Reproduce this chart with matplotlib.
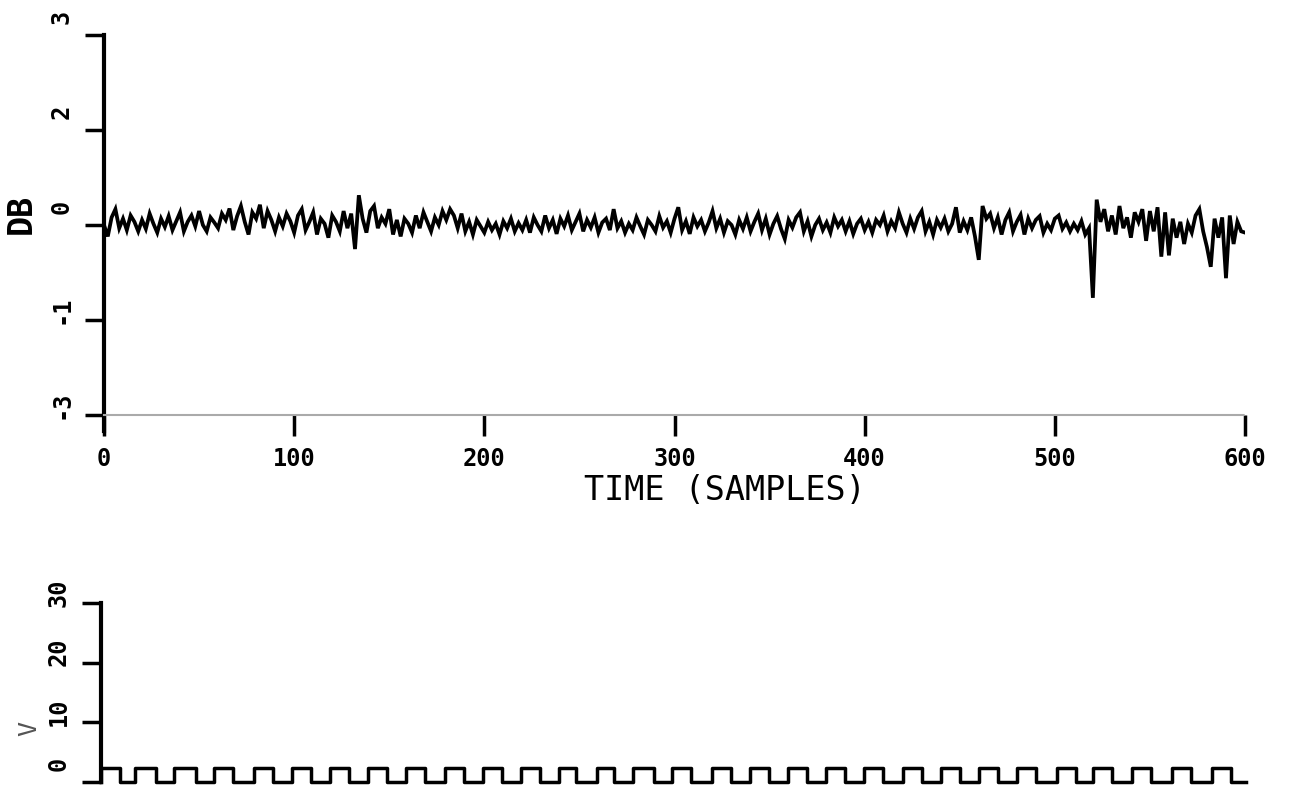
import matplotlib
matplotlib.use('Agg')
import matplotlib.pyplot as plt
from matplotlib.transforms import ScaledTranslation
import numpy as np

# signal (DB), one value every 2 samples
time_step = 2
db_values = [
    0.00, -0.18, 0.12, 0.25, -0.05, 0.10, -0.08, 0.15, 0.05, -0.10,
    0.08, -0.06, 0.18, 0.02, -0.12, 0.10, -0.03, 0.14, -0.08, 0.06,
    0.20, -0.10, 0.05, 0.15, -0.02, 0.22, 0.00, -0.10, 0.12, 0.04,
    -0.05, 0.18, 0.08, 0.26, -0.08, 0.14, 0.30, 0.05, -0.15, 0.20,
    0.10, 0.32, -0.05, 0.22, 0.08, -0.10, 0.12, -0.02, 0.18, 0.06,
    -0.12, 0.15, 0.25, -0.08, 0.05, 0.20, -0.15, 0.10, 0.02, -0.20,
    0.15, 0.05, -0.10, 0.22, -0.05, 0.18, -0.38, 0.47, 0.10, -0.12,
    0.22, 0.30, -0.05, 0.12, 0.02, 0.25, -0.15, 0.08, -0.18, 0.10,
    0.02, -0.12, 0.15, -0.05, 0.20, 0.05, -0.10, 0.12, 0.00, 0.22,
    0.08, 0.25, 0.15, -0.05, 0.18, -0.10, 0.05, -0.15, 0.08, -0.02,
    -0.12, 0.05, -0.08, 0.02, -0.15, 0.06, -0.05, 0.10, -0.10, 0.03,
    -0.08, 0.08, -0.12, 0.12, 0.00, -0.10, 0.15, -0.05, 0.08, -0.14,
    0.10, -0.02, 0.15, -0.08, 0.05, 0.18, -0.10, 0.08, -0.04, 0.12,
    -0.12, 0.04, 0.10, -0.08, 0.25, -0.05, 0.06, -0.12, 0.02, -0.08,
    0.12, -0.02, -0.15, 0.08, 0.00, -0.10, 0.14, -0.04, 0.06, -0.12,
    0.10, 0.28, -0.08, 0.06, -0.14, 0.12, -0.02, 0.08, -0.10, 0.04,
    0.22, -0.05, 0.10, -0.12, 0.06, 0.00, -0.15, 0.08, -0.06, 0.12,
    -0.10, 0.05, 0.18, -0.08, 0.10, -0.15, 0.02, 0.14, -0.06, -0.22,
    0.08, -0.04, 0.12, 0.20, -0.10, 0.06, -0.18, 0.00, 0.10, -0.08,
    0.04, -0.12, 0.12, -0.02, 0.08, -0.10, 0.06, -0.14, 0.02, 0.10,
    -0.08, 0.05, -0.12, 0.08, 0.00, 0.15, -0.10, 0.06, -0.05, 0.20,
    0.02, -0.12, 0.10, -0.06, 0.12, 0.22, -0.10, 0.05, -0.15, 0.08,
    -0.04, 0.10, -0.10, 0.02, 0.28, -0.12, 0.06, -0.08, 0.12, -0.18,
    -0.55, 0.30, 0.10, 0.18, -0.05, 0.12, -0.15, 0.08, 0.20, -0.10,
    0.05, 0.16, -0.15, 0.10, -0.05, 0.08, 0.14, -0.12, 0.02, -0.08,
    0.10, 0.15, -0.06, 0.04, -0.10, 0.02, -0.08, 0.06, -0.15, -0.05,
    -1.15, 0.40, 0.05, 0.25, -0.10, 0.15, -0.15, 0.30, -0.05, 0.12,
    -0.20, 0.20, 0.05, 0.25, -0.25, 0.22, -0.10, 0.28, -0.50, 0.20,
    -0.48, 0.10, -0.20, 0.05, -0.30, 0.02, -0.12, 0.15, 0.25, -0.10,
    -0.35, -0.66, 0.10, -0.20, 0.12, -0.84, 0.15, -0.30, 0.05, -0.10,
    -0.12,
]

# pulse train (V): rising / falling sample of each pulse
pulse_rise = [0, 18, 38, 59, 80, 100, 120, 140, 160, 180, 200, 220, 240, 260, 279,
              299, 320, 340, 360, 380, 400, 420, 440, 460, 480, 501, 520, 540, 561, 582]
pulse_fall = [10, 29, 50, 69, 90, 110, 130, 150, 170, 190, 210, 230, 249, 269, 290,
              309, 330, 350, 370, 390, 410, 430, 450, 470, 490, 511, 530, 550, 571, 592]
pulse_high = 2.4
pulse_end = 600

top_yticks = [3, 1.5, 0, -1.5, -3]
top_ylabels = ['3', '2', '0', '-1', '-3']
top_xticks = [0, 100, 200, 300, 400, 500, 600]
top_xlabels = ['0', '100', '200', '300', '400', '500', '600']
bot_yticks = [0, 10, 20, 30]
bot_ylabels = ['0', '10', '20', '30']

mono = 'DejaVu Sans Mono'
W, H = 1289, 797

fig = plt.figure(figsize=(W / 100, H / 100), dpi=100)

# ---- top panel ----
ax1 = fig.add_axes([104 / W, 1 - 415 / H, (1245 - 104) / W, (415 - 35) / H])
t = np.arange(len(db_values)) * time_step
ax1.plot(t, db_values, color='black', lw=2.7, solid_joinstyle='miter')
ax1.set_xlim(0, 600)
ax1.set_ylim(-3, 3)
ax1.set_xticks(top_xticks)
ax1.set_xticklabels(top_xlabels, fontfamily=mono, fontsize=17, fontweight='bold')
ax1.set_yticks(top_yticks)
ax1.set_yticklabels(top_ylabels, fontfamily=mono, fontsize=17, fontweight='bold')
ax1.tick_params(axis='x', direction='out', length=15, width=2.5, pad=8)
ax1.tick_params(axis='y', direction='out', length=14, width=2.5, pad=8, labelrotation=90)
for s in ['top', 'right']:
    ax1.spines[s].set_visible(False)
ax1.spines['left'].set_linewidth(3)
ax1.spines['left'].set_bounds(-3.25, 3)
ax1.spines['bottom'].set_color('#aaaaaa')
ax1.spines['bottom'].set_linewidth(1.5)
ax1.spines['bottom'].set_linestyle((0, (3, 1)))
ax1.set_ylabel('DB', fontfamily=mono, fontsize=24, fontweight='bold')
ax1.set_xlabel('TIME (SAMPLES)', fontfamily=mono, fontsize=24)
ax1.xaxis.set_label_coords(0.544, -0.155)
ax1.yaxis.set_label_coords(-0.058, 0.53)
up = ScaledTranslation(0, 11 / 72, fig.dpi_scale_trans)
for lbl in ax1.get_yticklabels():
    lbl.set_transform(lbl.get_transform() + up)

# ---- bottom panel ----
ax2 = fig.add_axes([101 / W, 1 - 782 / H, (1246 - 101) / W, (782 - 603) / H])
px, py = [0], [0]
for r, f in zip(pulse_rise, pulse_fall):
    px += [r, r, f, f]
    py += [0, pulse_high, pulse_high, 0]
px.append(pulse_end)
py.append(0)
ax2.plot(px, py, color='black', lw=2.5, clip_on=False)
ax2.set_xlim(0, 600)
ax2.set_ylim(0, 30)
ax2.set_xticks([])
ax2.set_yticks(bot_yticks)
ax2.set_yticklabels(bot_ylabels, fontfamily=mono, fontsize=17, fontweight='bold')
ax2.tick_params(axis='y', direction='out', length=14, width=2.5, pad=8, labelrotation=90)
for s in ['top', 'right', 'bottom']:
    ax2.spines[s].set_visible(False)
ax2.spines['left'].set_linewidth(3)
ax2.set_ylabel('V', fontfamily=mono, fontsize=18, color='#555555')
ax2.yaxis.set_label_coords(-0.052, 0.3)
for lbl in ax2.get_yticklabels():
    lbl.set_transform(lbl.get_transform() + up)

fig.savefig('out.png', dpi=100, facecolor='white')
